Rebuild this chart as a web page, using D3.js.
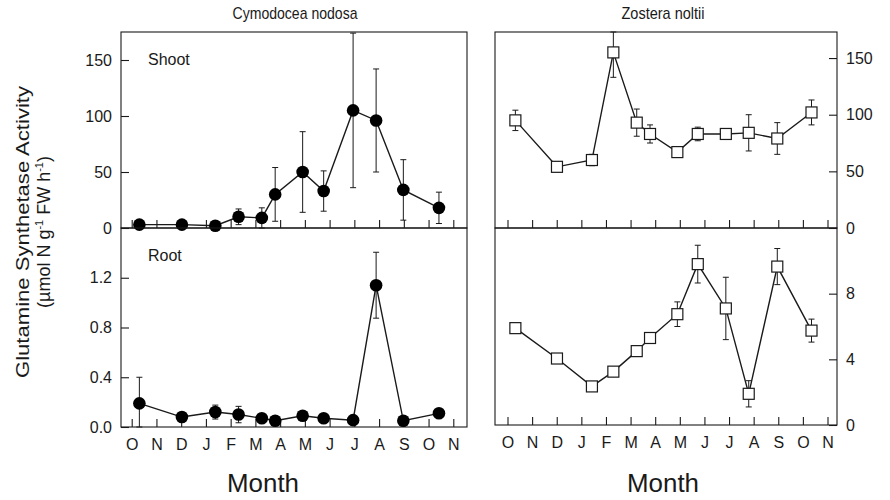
<!DOCTYPE html>
<html>
<head>
<meta charset="utf-8">
<script src="https://cdn.jsdelivr.net/npm/d3@7"></script>
<style>
  html, body { margin: 0; padding: 0; background: #fff; }
  svg { display: block; font-family: "Liberation Sans", Arial, Helvetica, sans-serif; }
</style>
</head>
<body>
<svg id="chart" width="890" height="500"></svg>
<script>
// ---------------- data ----------------
const months = ["O","N","D","J","F","M","A","M","J","J","A","S","O","N"];
// sampling positions along the month axis (0 = first October tick)
const cymTimes = [0.31, 2.03, 3.38, 4.32, 5.26, 5.80, 6.91, 7.76, 8.95, 9.88, 10.98, 12.42];
const zosTimes = [0.32, 2.01, 3.43, 4.30, 5.25, 5.79, 6.90, 7.73, 8.87, 9.80, 10.96, 12.35];

const cymShoot    = [3, 3, 2, 10, 9, 30, 50, 33, 105, 96, 34, 18];
const cymShootErr = [0, 0, 0, 7, 9, 24, 36, 18, 69, 46, 27, 14];
const cymRoot     = [0.19, 0.08, 0.12, 0.10, 0.07, 0.05, 0.09, 0.07, 0.055, 1.14, 0.05, 0.11];
const cymRootErr  = [0.21, 0, 0.056, 0.066, 0, 0, 0, 0, 0, 0.265, 0, 0];

const zosShoot    = [95, 54, 60, 155, 93, 83, 67, 83, 83, 84, 79, 102];
const zosShootErr = [9, 4, 5, 22, 12, 8, 0, 6, 0, 16, 14, 11];
const zosRoot     = [5.9, 4.05, 2.35, 3.25, 4.5, 5.3, 6.75, 9.8, 7.1, 1.9, 9.65, 5.75];
const zosRootErr  = [0.1, 0, 0, 0, 0, 0, 0.75, 1.15, 1.9, 0.8, 1.1, 0.7];

const shootTicks = [0, 50, 100, 150];
const cymRootTicks = [0, 0.4, 0.8, 1.2];
const zosRootTicks = [0, 4, 8];

const speciesTitles = ["Cymodocea nodosa", "Zostera noltii"];
const partLabels = ["Shoot", "Root"];

// ---------------- layout ----------------
const svg = d3.select("#chart");
const ink = "#1a1a1a";

const xLeft  = d3.scaleLinear().domain([0, 13]).range([131.7, 453.3]);
const xRight = d3.scaleLinear().domain([0, 13]).range([507.5, 827.5]);

const panels = [
  { x0: 121, x1: 467, y0: 32, y1: 228, x: xLeft, domain: [0, 175], ticks: shootTicks, fmt: d3.format("d"),
    side: "left", times: cymTimes, values: cymShoot, err: cymShootErr, marker: "circle", label: partLabels[0], bottom: false },
  { x0: 121, x1: 467, y0: 228, y1: 427, x: xLeft, domain: [0, 1.6], ticks: cymRootTicks, fmt: d3.format(".1f"),
    side: "left", times: cymTimes, values: cymRoot, err: cymRootErr, marker: "circle", label: partLabels[1], bottom: true },
  { x0: 495, x1: 837, y0: 32, y1: 228, x: xRight, domain: [0, 173], ticks: shootTicks, fmt: d3.format("d"),
    side: "right", times: zosTimes, values: zosShoot, err: zosShootErr, marker: "square", label: null, bottom: false },
  { x0: 495, x1: 837, y0: 228, y1: 425, x: xRight, domain: [0, 12], ticks: zosRootTicks, fmt: d3.format("d"),
    side: "right", times: zosTimes, values: zosRoot, err: zosRootErr, marker: "square", label: null, bottom: true }
];

panels.forEach(p => {
  const y = d3.scaleLinear().domain(p.domain).range([p.y1, p.y0]);
  const g = svg.append("g");

  // frame
  g.append("rect")
    .attr("x", p.x0).attr("y", p.y0)
    .attr("width", p.x1 - p.x0).attr("height", p.y1 - p.y0)
    .attr("fill", "none").attr("stroke", ink).attr("stroke-width", 1.1);

  // x axis (inner ticks)
  const xAxis = d3.axisBottom(p.x)
    .tickValues(d3.range(months.length))
    .tickSize(-8)
    .tickPadding(12)
    .tickFormat(p.bottom ? (i => months[i]) : (() => ""));
  const gx = g.append("g").attr("transform", `translate(0,${p.y1})`).call(xAxis);
  gx.select(".domain").remove();
  gx.selectAll(".tick line").attr("stroke", ink).attr("stroke-width", 1.1);
  gx.selectAll(".tick text").attr("fill", ink).attr("font-size", 16)
    .attr("font-family", "'Liberation Sans', Arial, sans-serif");

  // y axis
  const yAxis = (p.side === "left" ? d3.axisLeft(y) : d3.axisRight(y))
    .tickValues(p.ticks).tickSize(-8).tickPadding(9).tickFormat(p.fmt);
  const gy = g.append("g")
    .attr("transform", `translate(${p.side === "left" ? p.x0 : p.x1},0)`)
    .call(yAxis);
  gy.select(".domain").remove();
  gy.selectAll(".tick line").attr("stroke", ink).attr("stroke-width", 1.1);
  gy.selectAll(".tick text").attr("fill", ink).attr("font-size", 16)
    .attr("font-family", "'Liberation Sans', Arial, sans-serif");

  const pts = p.values.map((v, i) => ({ t: p.times[i], v: v, e: p.err[i] }));

  // error bars
  const clampV = v => Math.max(p.domain[0], Math.min(p.domain[1], v));
  const eb = g.append("g").attr("stroke", ink).attr("stroke-width", 1);
  pts.filter(d => d.e > 0).forEach(d => {
    const cx = p.x(d.t);
    const top = y(clampV(d.v + d.e)), bot = y(clampV(d.v - d.e));
    eb.append("line").attr("x1", cx).attr("x2", cx).attr("y1", top).attr("y2", bot);
    eb.append("line").attr("x1", cx - 3).attr("x2", cx + 3).attr("y1", top).attr("y2", top);
    eb.append("line").attr("x1", cx - 3).attr("x2", cx + 3).attr("y1", bot).attr("y2", bot);
  });

  // connecting line
  const line = d3.line().x(d => p.x(d.t)).y(d => y(d.v));
  g.append("path").datum(pts)
    .attr("d", line).attr("fill", "none")
    .attr("stroke", ink).attr("stroke-width", 1.4);

  // markers
  if (p.marker === "circle") {
    g.selectAll("circle.pt").data(pts).join("circle")
      .attr("class", "pt")
      .attr("cx", d => p.x(d.t)).attr("cy", d => y(d.v))
      .attr("r", 6.3).attr("fill", "#000");
  } else {
    const s = 11;
    g.selectAll("rect.pt").data(pts).join("rect")
      .attr("class", "pt")
      .attr("x", d => p.x(d.t) - s / 2).attr("y", d => y(d.v) - s / 2)
      .attr("width", s).attr("height", s)
      .attr("fill", "#fff").attr("stroke", ink).attr("stroke-width", 1.2);
  }

  if (p.label) {
    g.append("text").attr("x", p.x0 + 27).attr("y", p.y0 + 33)
      .attr("font-size", 16).attr("fill", ink).text(p.label);
  }
});

// species titles
svg.append("text").attr("x", 295).attr("y", 19).attr("text-anchor", "middle")
  .attr("font-size", 17).attr("fill", ink)
  .attr("textLength", 125).attr("lengthAdjust", "spacingAndGlyphs")
  .text(speciesTitles[0]);
svg.append("text").attr("x", 663).attr("y", 19).attr("text-anchor", "middle")
  .attr("font-size", 17).attr("fill", ink)
  .attr("textLength", 83).attr("lengthAdjust", "spacingAndGlyphs")
  .text(speciesTitles[1]);

// x titles
[263, 663].forEach(cx => {
  svg.append("text").attr("x", cx).attr("y", 492).attr("text-anchor", "middle")
    .attr("font-size", 25).attr("fill", ink)
    .attr("textLength", 72).attr("lengthAdjust", "spacingAndGlyphs")
    .text("Month");
});

// y title (two lines, rotated)
const yt = svg.append("g").attr("transform", "translate(0,232) rotate(-90)");
yt.append("text").attr("x", 0).attr("y", 29).attr("text-anchor", "middle")
  .attr("font-size", 18).attr("fill", ink)
  .attr("textLength", 292).attr("lengthAdjust", "spacingAndGlyphs")
  .text("Glutamine Synthetase Activity");
const l2 = yt.append("text").attr("x", 0).attr("y", 50).attr("text-anchor", "middle")
  .attr("font-size", 18).attr("fill", ink);
l2.append("tspan").text("(µmol N g");
l2.append("tspan").attr("dy", -7).attr("font-size", 11).text("-1");
l2.append("tspan").attr("dy", 7).text(" FW h");
l2.append("tspan").attr("dy", -7).attr("font-size", 11).text("-1");
l2.append("tspan").attr("dy", 7).text(")");
</script>
</body>
</html>
